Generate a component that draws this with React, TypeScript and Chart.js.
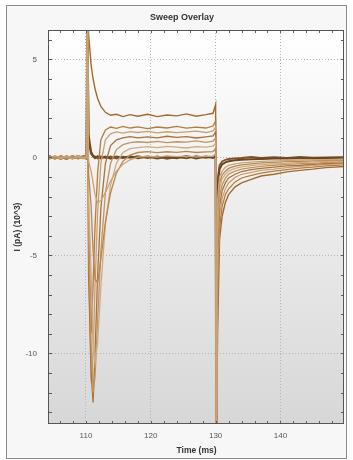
import React, { useEffect, useRef } from 'react';
import { Chart, registerables } from 'chart.js';

Chart.register(...registerables);

// ---- data ----
const timeMs = [
  104.3, 105.2, 106.1, 107.0, 107.9, 108.8, 109.7, 110.1,
  110.2, 110.4, 110.8, 111.1, 111.4, 111.8, 112.3, 113.0, 113.8, 114.7, 115.7, 116.8, 118.0,
  119.5, 121.0, 122.5, 124.0, 125.5, 127.0, 128.5, 129.6, 130.0,
  130.1, 130.3, 130.6, 131.0, 131.5, 132.0, 133.0, 134.0, 135.5, 137.0, 139.0, 141.0, 143.0, 145.0, 147.0, 149.8,
];

const sweepA = [0.08, -0.05, 0.03, -0.08, 0.06, -0.02, 0.07, -0.05,
  9, 0.8, 0.2, 0.05, -0.04, 0.06, -0.05, 0.04, -0.07, 0.05, -0.03, 0.06, -0.04,
  0.05, -0.06, 0.03, -0.04, 0.07, -0.05, 0.04, -0.03, 0.1,
  -16, -1.5, -0.6, -0.35, -0.25, -0.2, -0.15, -0.12, -0.1, -0.08, -0.06, -0.05, -0.04, -0.04, -0.03, -0.02];
const sweepB = [-0.04, 0.06, -0.01, 0.05, -0.06, 0.03, -0.02, 0.04,
  9, -0.2, -0.7, -1.3, -1.9, -2.3, -2.2, -1.8, -1.2, -0.7, -0.35, -0.12, 0.02,
  0.06, 0.02, 0.08, 0.04, 0.07, 0.03, 0.06, 0.05, 0.2,
  -16, -2.2, -1.0, -0.7, -0.5, -0.4, -0.33, -0.28, -0.24, -0.2, -0.18, -0.16, -0.14, -0.12, -0.11, -0.1];
const sweepC = [0.05, -0.02, 0.04, -0.06, 0.02, -0.03, 0.06, -0.01,
  9, -0.8, -2.5, -4.8, -6.2, -6.4, -5.2, -3.3, -1.8, -0.8, -0.2, 0.12, 0.25,
  0.3, 0.24, 0.29, 0.26, 0.31, 0.25, 0.28, 0.3, 0.45,
  -16, -2.8, -1.3, -0.9, -0.7, -0.56, -0.45, -0.38, -0.33, -0.28, -0.25, -0.22, -0.2, -0.18, -0.15, -0.14];
const sweepD = [-0.03, 0.05, -0.07, 0.04, -0.05, 0.06, 0.02, -0.04,
  9, -2, -6.0, -9.5, -10.5, -9.4, -6.6, -3.4, -1.4, -0.3, 0.25, 0.45, 0.5,
  0.55, 0.5, 0.56, 0.52, 0.48, 0.55, 0.52, 0.58, 0.72,
  -16, -3.5, -1.6, -1.1, -0.85, -0.7, -0.56, -0.48, -0.42, -0.37, -0.33, -0.3, -0.26, -0.24, -0.2, -0.18];
const sweepE = [0.02, -0.08, 0.06, 0.0, 0.07, -0.04, -0.06, 0.03,
  9, -4, -9.5, -12.0, -11.2, -8.3, -4.8, -1.8, -0.3, 0.4, 0.65, 0.75, 0.8,
  0.76, 0.82, 0.75, 0.8, 0.78, 0.84, 0.77, 0.83, 1.0,
  -16, -4.2, -2.0, -1.4, -1.05, -0.85, -0.7, -0.6, -0.52, -0.46, -0.4, -0.36, -0.32, -0.3, -0.26, -0.22];
const sweepF = [-0.07, 0.03, -0.05, 0.08, -0.02, -0.06, 0.05, 0.0,
  9, -6, -11.0, -12.5, -10.0, -6.0, -2.6, -0.3, 0.6, 0.9, 1.0, 1.06, 1.0,
  1.05, 1.0, 1.08, 1.02, 1.06, 0.99, 1.05, 1.1, 1.3,
  -16, -5, -2.5, -1.7, -1.3, -1.05, -0.86, -0.72, -0.62, -0.56, -0.5, -0.43, -0.4, -0.35, -0.31, -0.28];
const sweepG = [0.06, -0.04, 0.05, -0.07, 0.03, 0.08, -0.03, -0.02,
  9, -5, -11.5, -10.0, -6.5, -2.8, -0.3, 0.9, 1.2, 1.3, 1.24, 1.32, 1.27,
  1.33, 1.25, 1.31, 1.26, 1.3, 1.34, 1.27, 1.35, 1.55,
  -16, -6, -3.0, -2.1, -1.6, -1.3, -1.02, -0.86, -0.76, -0.66, -0.6, -0.52, -0.46, -0.42, -0.36, -0.33];
const sweepH = [-0.05, 0.07, -0.02, 0.06, -0.08, 0.04, -0.05, 0.01,
  9, -3, -9.0, -6.5, -3.5, -0.8, 0.9, 1.4, 1.55, 1.48, 1.58, 1.5, 1.56,
  1.47, 1.55, 1.5, 1.58, 1.49, 1.54, 1.5, 1.6, 1.85,
  -16, -7, -3.6, -2.5, -1.9, -1.6, -1.25, -1.05, -0.92, -0.8, -0.7, -0.62, -0.55, -0.5, -0.43, -0.38];
const sweepI = [0.04, -0.06, 0.08, -0.03, 0.05, -0.07, 0.03, 0.02,
  9, 6.3, 4.7, 4.0, 3.5, 3.0, 2.6, 2.3, 2.15, 2.2, 2.08, 2.18, 2.1,
  2.2, 2.08, 2.16, 2.12, 2.22, 2.1, 2.18, 2.25, 2.7,
  -16, -9, -4.2, -3.0, -2.3, -1.9, -1.5, -1.3, -1.12, -0.95, -0.86, -0.74, -0.66, -0.6, -0.52, -0.46];
const sweepJ = [-0.06, 0.04, -0.08, 0.05, -0.03, 0.07, -0.04, 0.05,
  9, 1.2, 0.3, 0.1, 0.04, -0.05, 0.06, -0.03, 0.05, -0.06, 0.04, -0.02, 0.06,
  -0.04, 0.05, -0.07, 0.03, -0.05, 0.06, -0.02, 0.04, 0.05,
  -16, -1.2, -0.4, -0.2, -0.12, -0.08, -0.05, -0.03, 0.02, -0.03, 0.01, -0.02, 0.02, -0.01, 0.0, 0.01];

const sweeps = [sweepB, sweepC, sweepD, sweepE, sweepF, sweepG, sweepH, sweepI, sweepA, sweepJ];
const sweepColors = ['#c9a477', '#b7874f', '#d0ab80', '#c19462', '#a9723a', '#cba070', '#b27c42', '#a36a2e', '#6e4620', '#7f5226'];
const sweepWidths = [1.3, 1.3, 1.3, 1.3, 1.3, 1.3, 1.3, 1.4, 2, 1.8];

const xMajorTicks = [110, 120, 130, 140];
const yMajorTicks = [-10, -5, 0, 5];
const xMinorTicks = [106, 108, 110, 112, 114, 116, 118, 120, 122, 124, 126, 128, 130, 132, 134, 136, 138, 140, 142, 144, 146, 148];
const yMinorTicks = [-13, -12, -11, -10, -9, -8, -7, -6, -5, -4, -3, -2, -1, 0, 1, 2, 3, 4, 5, 6];

const chartTitle = 'Sweep Overlay';
const xAxisTitle = 'Time (ms)';
const yAxisTitle = 'I (pA) (10^3)';

const FONT = '"Liberation Sans", Arial, sans-serif';

const decorPlugin = {
  id: 'decor',
  beforeDraw(chart: any) {
    const { ctx, chartArea: a, width, height } = chart;
    ctx.save();
    ctx.fillStyle = '#ffffff';
    ctx.fillRect(0, 0, width, height);
    ctx.fillStyle = '#f7f7f7';
    ctx.fillRect(7, 5, 339, 453);
    ctx.strokeStyle = '#8c8c8c';
    ctx.lineWidth = 1;
    ctx.strokeRect(6.5, 5.5, 340, 453);
    const g = ctx.createLinearGradient(0, a.top, 0, a.bottom);
    g.addColorStop(0, '#ffffff');
    g.addColorStop(1, '#d7d7d7');
    ctx.fillStyle = g;
    ctx.fillRect(a.left, a.top, a.right - a.left, a.bottom - a.top);
    ctx.restore();
  },
  afterDraw(chart: any) {
    const { ctx, chartArea: a, scales } = chart;
    const xs = scales.x;
    const ys = scales.y;
    ctx.save();
    ctx.strokeStyle = '#5a5a5a';
    ctx.lineWidth = 1;
    ctx.beginPath();
    for (const v of xMinorTicks) {
      const px = Math.round(xs.getPixelForValue(v)) + 0.5;
      ctx.moveTo(px, a.bottom);
      ctx.lineTo(px, a.bottom - 3);
      ctx.moveTo(px, a.top);
      ctx.lineTo(px, a.top + 3);
    }
    for (const v of yMinorTicks) {
      const py = Math.round(ys.getPixelForValue(v)) + 0.5;
      ctx.moveTo(a.left, py);
      ctx.lineTo(a.left + 3, py);
      ctx.moveTo(a.right, py);
      ctx.lineTo(a.right - 3, py);
    }
    ctx.stroke();
    ctx.strokeStyle = '#555555';
    ctx.strokeRect(Math.round(a.left) - 0.5, Math.round(a.top) + 0.5, Math.round(a.right - a.left), Math.round(a.bottom - a.top) - 1);
    ctx.fillStyle = '#333333';
    ctx.font = `bold 9px ${FONT}`;
    ctx.textAlign = 'center';
    ctx.textBaseline = 'middle';
    ctx.fillText(chartTitle, 182, 18);
    ctx.restore();
  },
};

export default function App() {
  const ref = useRef<HTMLCanvasElement | null>(null);

  useEffect(() => {
    const canvas = ref.current;
    if (!canvas) return;
    const datasets = sweeps.map((s, k) => ({
      label: `Sweep ${k + 1}`,
      data: timeMs.map((t, i) => ({ x: t, y: s[i] })),
      borderColor: sweepColors[k],
      borderWidth: sweepWidths[k],
      pointRadius: 0,
      tension: 0,
      fill: false,
      clip: 0,
    }));
    const chart = new Chart(canvas, {
      type: 'line',
      data: { datasets },
      options: {
        animation: false,
        responsive: false,
        devicePixelRatio: 1,
        events: [],
        layout: { padding: { left: 8, right: 9, top: 30, bottom: 4 } },
        plugins: { legend: { display: false }, tooltip: { enabled: false }, title: { display: false } },
        scales: {
          x: {
            type: 'linear',
            min: 104.3,
            max: 149.8,
            afterBuildTicks: (scale: any) => {
              scale.ticks = xMajorTicks.map((v) => ({ value: v }));
            },
            afterFit: (scale: any) => {
              scale.height = 32;
            },
            grid: { color: '#b4b4b4', lineWidth: 1, drawTicks: false },
            border: { display: false, dash: [1, 2] },
            ticks: { color: '#555555', font: { family: FONT, size: 8 }, padding: 7, maxRotation: 0, autoSkip: false },
            title: { display: true, text: xAxisTitle, color: '#333333', font: { family: FONT, size: 8.5, weight: 'bold' }, padding: { top: 0, bottom: 0 } },
          },
          y: {
            type: 'linear',
            min: -13.6,
            max: 6.5,
            afterBuildTicks: (scale: any) => {
              scale.ticks = yMajorTicks.map((v) => ({ value: v }));
            },
            afterFit: (scale: any) => {
              scale.width = 41;
            },
            grid: { color: '#b4b4b4', lineWidth: 1, drawTicks: false },
            border: { display: false, dash: [1, 2] },
            ticks: { color: '#555555', font: { family: FONT, size: 8 }, padding: 12, autoSkip: false },
            title: { display: true, text: yAxisTitle, color: '#333333', font: { family: FONT, size: 8.5, weight: 'bold' }, padding: { top: 5, bottom: 0 } },
          },
        },
      },
      plugins: [decorPlugin],
    } as any);
    return () => chart.destroy();
  }, []);

  return (
    <div style={{ position: 'fixed', left: 0, top: 0, width: 353, height: 460 }}>
      <canvas ref={ref} width={353} height={460} style={{ display: 'block', width: 353, height: 460 }} />
    </div>
  );
}
